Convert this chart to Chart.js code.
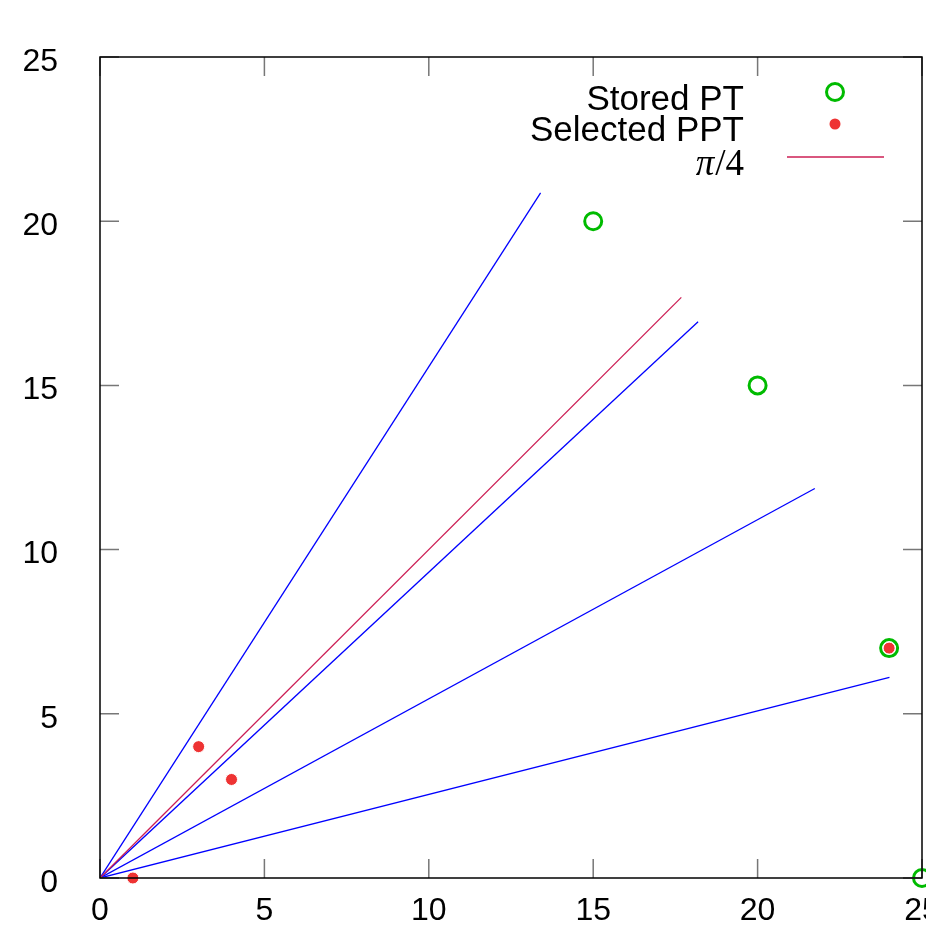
<!DOCTYPE html>
<html>
<head>
<meta charset="utf-8">
<script src="https://cdn.jsdelivr.net/npm/chart.js@4/dist/chart.umd.min.js"></script>
<style>
  html, body { margin: 0; padding: 0; background: #fff; overflow: hidden; }
  canvas { display: block; }
</style>
</head>
<body>
<canvas id="plot" width="1000" height="1000"></canvas>
<script>
// data
const storedPT = [[15, 20], [20, 15], [24, 7], [25, 0]];
const selectedPPT = [[1, 0], [3, 4], [4, 3], [24, 7]];
const rayEnds = [[13.40, 20.86], [18.19, 16.94], [21.74, 11.86], [24.01, 6.11]];
const quarterPiEnd = [17.68, 17.68];
const tickValues = [0, 5, 10, 15, 20, 25];

const GREEN = '#00bb00';
const RED = '#ee3333';
const BLUE = '#0000ff';
const CRIMSON = '#cc1f55';
const FONT = '"Liberation Sans", Arial, sans-serif';

const toXY = ([x, y]) => ({ x, y });

const rayDatasets = rayEnds.map(end => ({
    label: 'ray',
    data: [{ x: 0, y: 0 }, toXY(end)],
    showLine: true,
    borderColor: BLUE,
    borderWidth: 1.3,
    pointRadius: 0,
    order: 3
}));

// box, inward ticks on all four sides, legend
const framePlugin = {
    id: 'frame',
    afterDraw(chart) {
        const { ctx, chartArea: a, scales: { x, y } } = chart;
        ctx.save();
        ctx.strokeStyle = '#777';
        ctx.lineWidth = 1.5;
        const len = 19;
        tickValues.forEach(v => {
            const px = x.getPixelForValue(v);
            const py = y.getPixelForValue(v);
            ctx.beginPath();
            ctx.moveTo(px, a.bottom); ctx.lineTo(px, a.bottom - len);
            ctx.moveTo(px, a.top); ctx.lineTo(px, a.top + len);
            ctx.moveTo(a.left, py); ctx.lineTo(a.left + len, py);
            ctx.moveTo(a.right, py); ctx.lineTo(a.right - len, py);
            ctx.stroke();
        });
        ctx.strokeStyle = '#000';
        ctx.lineWidth = 1.5;
        ctx.strokeRect(a.left, a.top, a.right - a.left, a.bottom - a.top);

        // legend
        const textRight = 744;
        const symX = 835;
        ctx.fillStyle = '#000';
        ctx.textAlign = 'right';
        ctx.textBaseline = 'alphabetic';
        ctx.font = '35px ' + FONT;
        ctx.fillText('Stored PT', textRight, 110);
        ctx.fillText('Selected PPT', textRight, 141);

        ctx.font = '37px "Liberation Serif", "DejaVu Serif", serif';
        const rest = '/4';
        const restW = ctx.measureText(rest).width;
        ctx.fillText(rest, textRight, 175);
        ctx.font = 'italic 37px "Liberation Serif", "DejaVu Serif", serif';
        ctx.fillText('π', textRight - restW - 1, 175);

        ctx.beginPath();
        ctx.arc(symX, 92, 8.5, 0, Math.PI * 2);
        ctx.strokeStyle = GREEN;
        ctx.lineWidth = 3;
        ctx.stroke();

        ctx.beginPath();
        ctx.arc(symX, 124, 5.5, 0, Math.PI * 2);
        ctx.fillStyle = RED;
        ctx.fill();

        ctx.beginPath();
        ctx.moveTo(787, 157); ctx.lineTo(884, 157);
        ctx.strokeStyle = CRIMSON;
        ctx.lineWidth = 1.3;
        ctx.stroke();
        ctx.restore();
    }
};

new Chart(document.getElementById('plot'), {
    type: 'scatter',
    data: {
        datasets: [
            {
                label: 'Selected PPT',
                data: selectedPPT.map(toXY),
                pointRadius: 6,
                pointBackgroundColor: RED,
                pointBorderColor: '#fff',
                pointBorderWidth: 1,
                clip: false,
                order: 0
            },
            {
                label: 'Stored PT',
                data: storedPT.map(toXY),
                pointRadius: 8.5,
                pointBackgroundColor: 'rgba(0,0,0,0)',
                pointBorderColor: GREEN,
                pointBorderWidth: 3,
                clip: false,
                order: 1
            },
            {
                label: 'π/4',
                data: [{ x: 0, y: 0 }, toXY(quarterPiEnd)],
                showLine: true,
                borderColor: CRIMSON,
                borderWidth: 1.3,
                pointRadius: 0,
                order: 2
            },
            ...rayDatasets
        ]
    },
    options: {
        responsive: false,
        animation: false,
        events: [],
        layout: { padding: { top: 57, right: 78, left: 0, bottom: 0 } },
        plugins: {
            legend: { display: false },
            tooltip: { enabled: false }
        },
        scales: {
            x: {
                min: 0, max: 25,
                afterFit: s => { s.height = 122; s.paddingLeft = 0; s.paddingRight = 0; },
                afterBuildTicks: s => { s.ticks = tickValues.map(v => ({ value: v })); },
                grid: { display: false, drawTicks: false },
                border: { display: false },
                ticks: {
                    padding: 14,
                    color: '#000',
                    maxRotation: 0,
                    autoSkip: false,
                    font: { family: FONT, size: 32 }
                }
            },
            y: {
                min: 0, max: 25,
                afterFit: s => { s.width = 100; s.paddingTop = 0; s.paddingBottom = 0; },
                afterBuildTicks: s => { s.ticks = tickValues.map(v => ({ value: v })); },
                grid: { display: false, drawTicks: false },
                border: { display: false },
                ticks: {
                    padding: 42,
                    labelOffset: 5,
                    color: '#000',
                    autoSkip: false,
                    font: { family: FONT, size: 32 }
                }
            }
        }
    },
    plugins: [framePlugin]
});
</script>
</body>
</html>
